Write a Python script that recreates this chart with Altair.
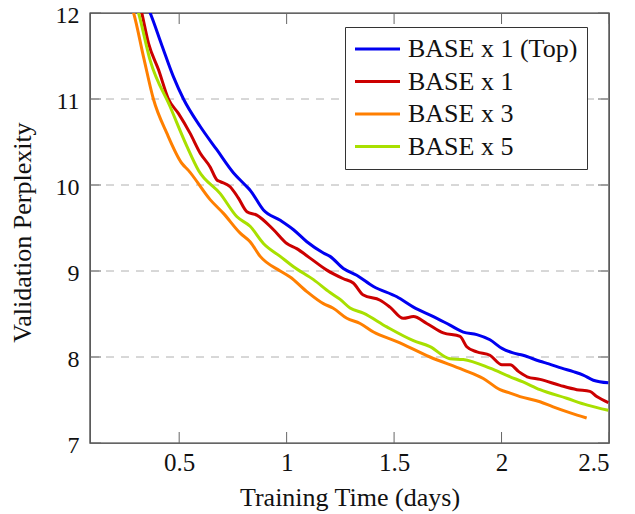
import altair as alt
import pandas as pd

SERIES = ["BASE x 1 (Top)", "BASE x 1", "BASE x 3", "BASE x 5"]
COLORS = ["#0000f0", "#cc0000", "#ff7f00", "#a8e000"]

top_x = [0.32, 0.365, 0.42, 0.473, 0.52, 0.598, 0.675, 0.753, 0.807, 0.83, 0.892, 0.97, 1.032,
         1.094, 1.171, 1.202, 1.264, 1.326, 1.404, 1.513, 1.59, 1.683, 1.76, 1.822, 1.885, 1.946,
         2.002, 2.05, 2.10, 2.179, 2.22, 2.28, 2.334, 2.38, 2.427, 2.497]
top_y = [12.25, 12.0, 11.62, 11.26, 11.0, 10.68, 10.41, 10.14, 10.0, 9.94, 9.71, 9.59, 9.48,
         9.34, 9.21, 9.17, 9.03, 8.95, 8.82, 8.70, 8.58, 8.47, 8.37, 8.29, 8.26, 8.20,
         8.10, 8.05, 8.02, 7.95, 7.92, 7.87, 7.83, 7.79, 7.73, 7.70]

x1_x = [0.29, 0.326, 0.357, 0.404, 0.45, 0.497, 0.551, 0.598, 0.644, 0.675, 0.691, 0.737, 0.775,
        0.815, 0.861, 0.939, 1.001, 1.047, 1.109, 1.187, 1.264, 1.31, 1.357, 1.435, 1.481, 1.543,
        1.59, 1.652, 1.729, 1.807, 1.838, 1.885, 1.946, 2.002, 2.04, 2.08, 2.119, 2.179, 2.272,
        2.35, 2.411, 2.443, 2.497]
x1_y = [12.35, 12.0, 11.65, 11.34, 11.0, 10.83, 10.60, 10.37, 10.21, 10.06, 10.04, 9.98, 9.85,
        9.69, 9.65, 9.48, 9.32, 9.26, 9.15, 9.01, 8.91, 8.86, 8.72, 8.66, 8.58, 8.45,
        8.47, 8.39, 8.28, 8.24, 8.12, 8.06, 8.02, 7.91, 7.91, 7.83, 7.77, 7.74, 7.67,
        7.62, 7.60, 7.54, 7.47]

x3_x = [0.26, 0.288, 0.334, 0.38, 0.443, 0.513, 0.543, 0.644, 0.706, 0.784, 0.83, 0.877, 0.97,
        1.016, 1.094, 1.171, 1.215, 1.28, 1.342, 1.404, 1.513, 1.667, 1.822, 1.915, 1.993, 2.04,
        2.086, 2.179, 2.24, 2.32, 2.396]
x3_y = [12.2, 12.0, 11.49, 11.0, 10.60, 10.25, 10.17, 9.83, 9.67, 9.44, 9.34, 9.17, 9.0,
        8.93, 8.76, 8.62, 8.57, 8.45, 8.39, 8.29, 8.18, 8.0, 7.85, 7.75, 7.62, 7.58,
        7.54, 7.48, 7.42, 7.35, 7.29]

x5_x = [0.28, 0.311, 0.365, 0.458, 0.536, 0.59, 0.691, 0.769, 0.83, 0.892, 0.97, 1.032, 1.125,
        1.202, 1.249, 1.295, 1.357, 1.466, 1.59, 1.667, 1.76, 1.822, 1.946, 2.04, 2.10, 2.179,
        2.303, 2.40, 2.497]
x5_y = [12.25, 12.0, 11.45, 10.91, 10.45, 10.17, 9.90, 9.63, 9.52, 9.32, 9.17, 9.05, 8.90,
        8.75, 8.67, 8.57, 8.51, 8.35, 8.19, 8.12, 7.98, 7.97, 7.87, 7.77, 7.71, 7.62,
        7.52, 7.44, 7.38]

x_ticks = [0.5, 1, 1.5, 2, 2.5]
y_ticks = [7, 8, 9, 10, 11, 12]
y_grid = [8, 9, 10, 11]

rows = []
for name, xs, ys in [(SERIES[0], top_x, top_y), (SERIES[1], x1_x, x1_y),
                     (SERIES[2], x3_x, x3_y), (SERIES[3], x5_x, x5_y)]:
    for i, (a, b) in enumerate(zip(xs, ys)):
        rows.append({"series": name, "x": a, "y": b, "order": i})
df = pd.DataFrame(rows)

W, H = 519, 430
FONT = "Liberation Serif, Times New Roman, DejaVu Serif, serif"
xscale = alt.Scale(domain=[0.085, 2.5], nice=False, zero=False)
yscale = alt.Scale(domain=[7, 12], nice=False, zero=False)

xaxis = alt.Axis(values=x_ticks, format="~g", grid=False, tickSize=0, domain=False,
                 labelPadding=7, labelFontSize=25, labelFont=FONT, labelColor="#111",
                 titleFont=FONT, titleFontSize=26, titleFontWeight="normal", titleColor="#111",
                 titleX=W / 2, titleY=54, titleBaseline="middle")
yaxis = alt.Axis(values=y_ticks, format="d", grid=False, tickSize=0, domain=False,
                 labelPadding=11, labelOffset=2, labelFontSize=24, labelFont=FONT, labelColor="#111",
                 titleFont=FONT, titleFontSize=26, titleFontWeight="normal", titleColor="#111",
                 titleX=-68, titleY=219, titleAngle=-90, titleAlign="center",
                 titleBaseline="middle")
XT = "Training Time (days)"
YT = "Validation Perplexity"

def X(f="x:Q"):
    return alt.X(f, scale=xscale, axis=xaxis, title=XT)

def Y(f="y:Q"):
    return alt.Y(f, scale=yscale, axis=yaxis, title=YT)

grid = alt.Chart(pd.DataFrame({"y": y_grid})).mark_rule(
    color="#b0b0b0", strokeWidth=1, strokeDash=[8, 7]
).encode(y=Y())

lines = alt.Chart(df).mark_line(strokeWidth=3, clip=True, interpolate="monotone").encode(
    x=X(),
    y=Y(),
    color=alt.Color("series:N", title=None,
                    scale=alt.Scale(domain=SERIES, range=COLORS),
                    sort=SERIES,
                    legend=alt.Legend(orient="none", legendX=255, legendY=14,
                                      symbolType="M-2.4,0H6.6", symbolSize=100, symbolStrokeWidth=3,
                                      labelFont=FONT, labelFontSize=26, labelColor="#111",
                                      labelLimit=400,
                                      labelOffset=28, rowPadding=6.5, padding=9,
                                      strokeColor="#333", fillColor="white", cornerRadius=0)),
    order="order:Q",
)

xt_bottom = alt.Chart(pd.DataFrame({"x": x_ticks})).mark_rule(color="#666", strokeWidth=1).encode(
    x=X(), y=alt.value(H - 11), y2=alt.value(H))
xt_top = alt.Chart(pd.DataFrame({"x": x_ticks})).mark_rule(color="#666", strokeWidth=1).encode(
    x=X(), y=alt.value(0), y2=alt.value(11))
yt_left = alt.Chart(pd.DataFrame({"y": y_ticks})).mark_rule(color="#666", strokeWidth=1).encode(
    y=Y(), x=alt.value(0), x2=alt.value(11))
yt_right = alt.Chart(pd.DataFrame({"y": y_ticks})).mark_rule(color="#666", strokeWidth=1).encode(
    y=Y(), x=alt.value(W - 11), x2=alt.value(W))

chart = alt.layer(grid, xt_bottom, xt_top, yt_left, yt_right, lines).properties(
    width=W, height=H,
    background="white",
    autosize=alt.AutoSizeParams(type="none"),
    padding={"left": 82, "top": 5, "right": 10, "bottom": 70},
).configure_view(stroke="#333", strokeWidth=1.4)

chart.save("out.html", embed_options={"renderer": "svg", "actions": False})
